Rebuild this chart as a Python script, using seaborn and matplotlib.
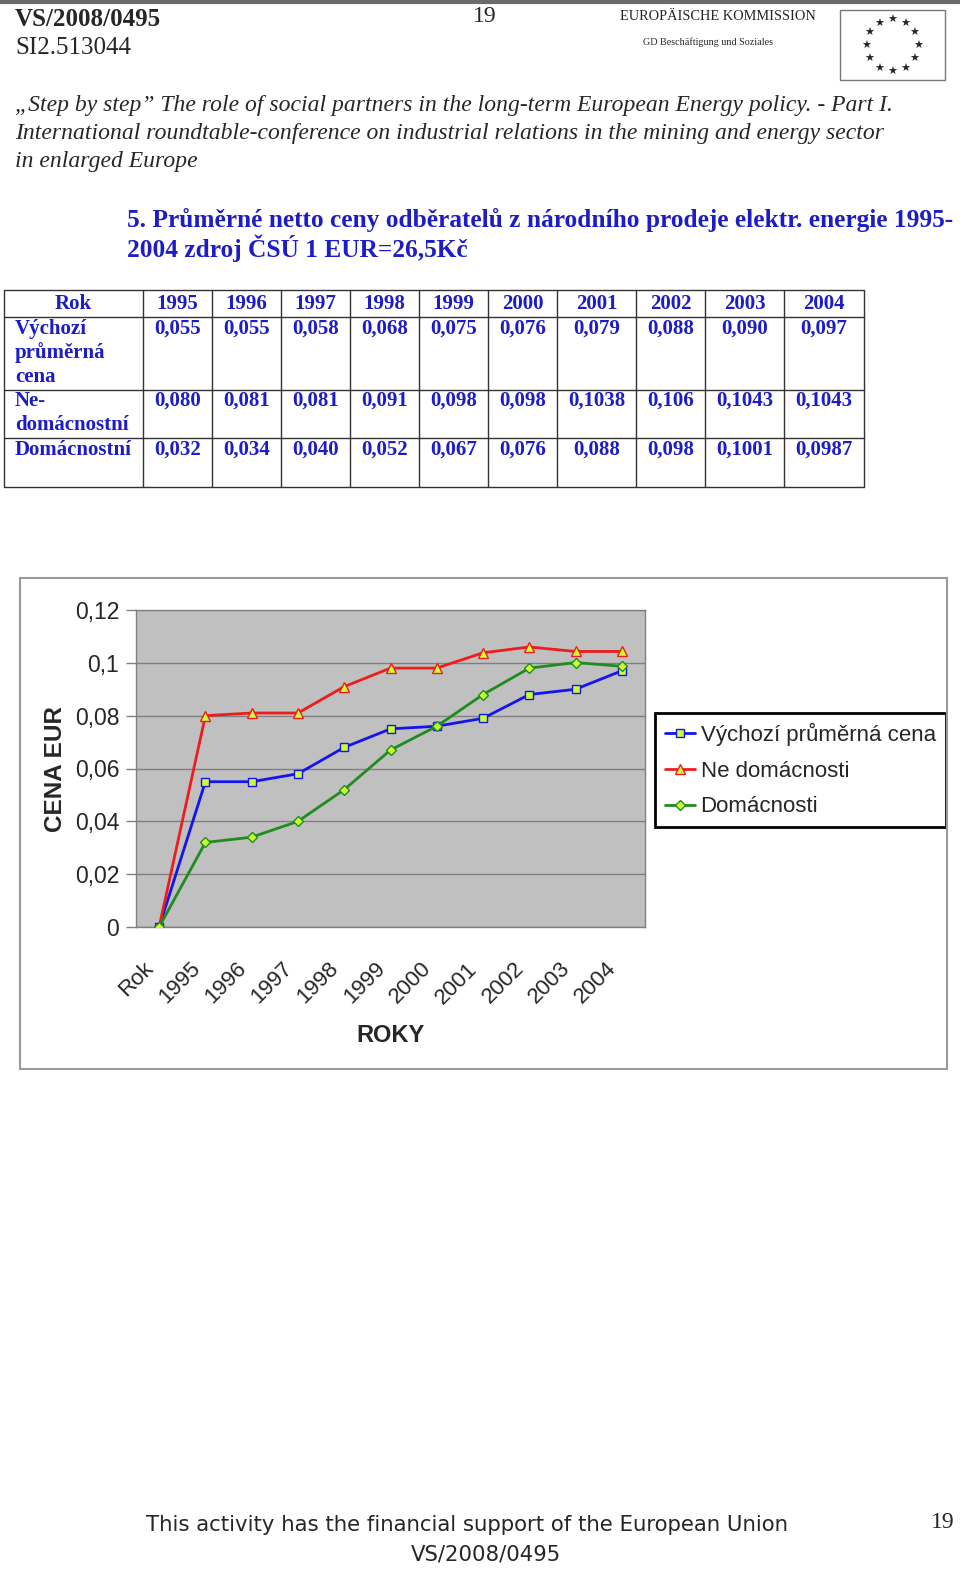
import matplotlib
matplotlib.use("Agg")
import matplotlib.pyplot as plt
import matplotlib.transforms as mtrans
import seaborn as sns
import numpy as np
import pandas as pd
from matplotlib.lines import Line2D
from matplotlib.patches import Rectangle

# ---------------- data ----------------
years = ["1995", "1996", "1997", "1998", "1999", "2000", "2001", "2002", "2003", "2004"]
x_categories = ["Rok"] + years
vychozi = [0.055, 0.055, 0.058, 0.068, 0.075, 0.076, 0.079, 0.088, 0.090, 0.097]
ne_domacnostni = [0.080, 0.081, 0.081, 0.091, 0.098, 0.098, 0.1038, 0.106, 0.1043, 0.1043]
domacnostni = [0.032, 0.034, 0.040, 0.052, 0.067, 0.076, 0.088, 0.098, 0.1001, 0.0987]
rok_value = [0.0]  # value plotted at the "Rok" category
series_names = ["Výchozí průměrná cena", "Ne domácnosti", "Domácnosti"]
row_labels = [["Výchozí", "průměrná", "cena"], ["Ne-", "domácnostní"], ["Domácnostní"]]
y_ticks = [0, 0.02, 0.04, 0.06, 0.08, 0.10, 0.12]
y_ticklabels = ["0", "0,02", "0,04", "0,06", "0,08", "0,1", "0,12"]

sns.set_style("white")
plt.rcParams["font.family"] = ["Liberation Sans", "DejaVu Sans"]

W, H = 960, 1569
fig = plt.figure(figsize=(W / 100, H / 100), dpi=100)


def T(x, y, s, **kw):
    kw.setdefault("va", "center")
    return fig.text(x / W, 1 - y / H, s, **kw)


def L(x0, y0, x1, y1, **kw):
    fig.add_artist(Line2D([x0 / W, x1 / W], [1 - y0 / H, 1 - y1 / H], transform=fig.transFigure, **kw))


serif = ["Liberation Serif", "DejaVu Serif"]
blue_txt = "#1c1cc8"

# ---------------- header ----------------
L(0, 2, W, 2, color="#6a6a6a", lw=3)
T(15, 20, "VS/2008/0495", family=serif, fontsize=18, fontweight="bold")
T(15, 48, "SI2.513044", family=serif, fontsize=18)
T(485, 16, "19", family=serif, fontsize=17, ha="center")
T(718, 17, "EUROPÄISCHE KOMMISSION", family=serif, fontsize=10.4, ha="center")
T(708, 42, "GD Beschäftigung und Soziales", family=serif, fontsize=7.3, ha="center")
fig.patches.append(Rectangle((840 / W, 1 - 80 / H), 105 / W, 70 / H, transform=fig.transFigure,
                             fill=False, ec="#777777", lw=1))
for k in range(12):
    a = np.pi / 2 - k * np.pi / 6
    T(892 + 26 * np.cos(a), 46 - 26 * np.sin(a), "★", family=["DejaVu Sans"], fontsize=8, ha="center")

T(15, 105, "„Step by step” The role of social partners in the long-term European Energy policy. - Part I.",
  family=serif, fontsize=17, style="italic")
T(15, 133, "International roundtable-conference on industrial relations in the mining and energy sector",
  family=serif, fontsize=17, style="italic")
T(15, 162, "in enlarged Europe", family=serif, fontsize=17, style="italic")

T(127, 220, "5. Průměrné netto ceny odběratelů z národního prodeje elektr. energie 1995-",
  family=serif, fontsize=18.3, fontweight="bold", color=blue_txt)
T(127, 248, "2004 zdroj ČSÚ 1 EUR=26,5Kč", family=serif, fontsize=18.3, fontweight="bold", color=blue_txt)

# ---------------- table ----------------
col_edges = [4, 143, 212, 281, 350, 419, 488, 557, 636, 705, 784, 864]
row_edges = [290, 317, 390, 438, 487]
for xe in col_edges:
    L(xe, row_edges[0], xe, row_edges[-1], color="#333333", lw=1)
for ye in row_edges:
    L(col_edges[0], ye, col_edges[-1], ye, color="#333333", lw=1)


def fmt(v):
    s = f"{v:.4f}"
    if s.endswith("0"):
        s = s[:-1]
    return s.replace(".", ",")


tkw = dict(family=serif, fontsize=15, fontweight="bold", color=blue_txt)
T((col_edges[0] + col_edges[1]) / 2, 304, "Rok", ha="center", **tkw)
for i, yr in enumerate(years):
    T((col_edges[i + 1] + col_edges[i + 2]) / 2, 304, yr, ha="center", **tkw)
row_tops = [329, 401, 450]
for r, (lab, vals) in enumerate(zip(row_labels, [vychozi, ne_domacnostni, domacnostni])):
    for j, line in enumerate(lab):
        T(15, row_tops[r] + 24 * j, line, ha="left", **tkw)
    for i, v in enumerate(vals):
        T((col_edges[i + 1] + col_edges[i + 2]) / 2, row_tops[r], fmt(v), ha="center", **tkw)

# ---------------- chart ----------------
fig.patches.append(Rectangle((20 / W, 1 - 1069 / H), 927 / W, 491 / H, transform=fig.transFigure,
                             fill=False, ec="#9a9a9a", lw=1.5))
ax = fig.add_axes([136 / W, 1 - 927 / H, 509 / W, 317 / H])
ax.set_facecolor("#c0c0c0")
xpos = np.arange(len(x_categories))
colors = ["#1414f0", "#ee1c1c", "#1e8c1e"]
markers = ["s", "^", "D"]
msizes = [6, 6.5, 5]
for name, vals, c, m, ms in zip(series_names, [vychozi, ne_domacnostni, domacnostni], colors, markers, msizes):
    df = pd.DataFrame({"x": xpos, "y": rok_value + vals})
    sns.lineplot(data=df, x="x", y="y", ax=ax, color=c, lw=2, marker=m, markersize=ms,
                 markerfacecolor="#ccff33", markeredgecolor=c, markeredgewidth=1, label=name, zorder=3)

ax.set_xlim(-0.5, len(x_categories) - 0.5)
ax.set_ylim(0, 0.12)
ax.set_yticks(y_ticks)
ax.set_yticklabels(y_ticklabels, fontsize=16.5)
ax.grid(axis="y", color="#808080", lw=1)
ax.set_axisbelow(True)
ax.set_xticks(xpos)
ax.set_xticks(np.arange(-0.5, len(x_categories)), minor=True)
ax.tick_params(axis="x", which="major", length=0, pad=21)
ax.tick_params(axis="x", which="minor", length=7, color="#808080", width=1, direction="out")
ax.tick_params(axis="y", which="major", length=7, color="#808080", width=1, direction="out", pad=5, left=True)
ax.set_xticklabels(x_categories, fontsize=16, rotation=45, ha="right", va="top", rotation_mode="anchor")
shift = mtrans.ScaledTranslation(-16 / 100, -2 / 100, fig.dpi_scale_trans)
for lab in ax.get_xticklabels():
    lab.set_transform(lab.get_transform() + shift)
for s in ax.spines.values():
    s.set_color("#808080")
    s.set_linewidth(1)
ax.set_xlabel("")
ax.set_ylabel("")
T(55, 769, "CENA EUR", fontsize=17.5, fontweight="bold", rotation=90, ha="center")
T(391, 1035, "ROKY", fontsize=17, fontweight="bold", ha="center")

leg = ax.legend(loc="upper left", bbox_to_anchor=(655 / W, 1 - 713 / H), bbox_transform=fig.transFigure,
                fontsize=16.0, frameon=True, fancybox=False, framealpha=1, edgecolor="black",
                handlelength=1.35, handletextpad=0.25, borderpad=0.45, labelspacing=0.66, borderaxespad=0)
leg.get_frame().set_linewidth(2)

# ---------------- footer ----------------
T(467, 1525, "This activity has the financial support of the European Union", fontsize=15.3,
  family=["DejaVu Sans"], ha="center")
T(486, 1555, "VS/2008/0495", fontsize=15.3, family=["DejaVu Sans"], ha="center")
T(943, 1522, "19", family=serif, fontsize=17, ha="center")

fig.savefig("out.png", dpi=100)
